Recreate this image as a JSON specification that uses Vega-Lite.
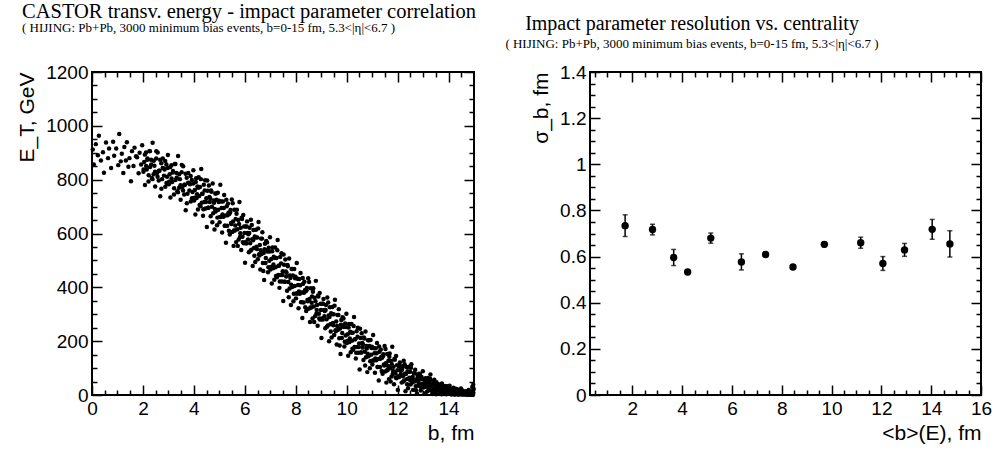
{
  "$schema": "https://vega.github.io/schema/vega-lite/v6.json",
  "background": "white",
  "autosize": {"type": "pad"},
  "padding": {"left": 15, "top": 0, "right": 1, "bottom": 9},
  "bounds": "flush",
  "spacing": 116,
  "config": {
    "view": {"stroke": "black", "strokeWidth": 2},
    "axis": {
      "domain": false, "grid": false,
      "labelFont": "Liberation Sans", "labelFontSize": 19, "labelColor": "black",
      "titleFont": "Liberation Sans", "titleFontSize": 21, "titleFontWeight": "normal", "titleColor": "black",
      "tickColor": "black", "tickWidth": 1.5, "labelFlush": false, "labelOverlap": false
    }
  },
  "hconcat": [
    {
      "width": 382, "height": 323,
      "title": {
        "text": "CASTOR transv. energy - impact parameter correlation",
        "subtitle": "( HIJING: Pb+Pb, 3000 minimum bias events, b=0-15 fm, 5.3<|η|<6.7 )",
        "anchor": "start", "frame": "group", "dx": -70, "offset": 28,
        "font": "Liberation Serif", "fontSize": 20.5, "fontWeight": "normal", "color": "black",
        "subtitleFont": "Liberation Serif", "subtitleFontSize": 13, "subtitleColor": "black", "subtitlePadding": 0
      },
      "layer": [
        {
          "data": {"values": [
{"b":0.03,"e":912},{"b":0.07,"e":856},{"b":0.15,"e":932},{"b":0.23,"e":891},{"b":0.27,"e":963},{"b":0.35,"e":871},{"b":0.43,"e":902},{"b":0.47,"e":826},{"b":0.55,"e":938},{"b":0.63,"e":880},{"b":0.67,"e":916},{"b":0.75,"e":843},{"b":0.83,"e":941},{"b":0.87,"e":889},{"b":0.95,"e":916},
{"b":1.03,"e":854},{"b":1.07,"e":970},{"b":1.13,"e":868},{"b":1.17,"e":896},{"b":1.23,"e":825},{"b":1.27,"e":921},{"b":1.33,"e":871},{"b":1.37,"e":939},{"b":1.43,"e":848},{"b":1.47,"e":880},{"b":1.53,"e":794},{"b":1.57,"e":906},{"b":1.63,"e":851},{"b":1.67,"e":919},{"b":1.73,"e":887},{"b":1.77,"e":883},{"b":1.83,"e":824},{"b":1.87,"e":900},{"b":1.93,"e":856},{"b":1.97,"e":928},
{"b":2.02,"e":829},{"b":2.05,"e":866},{"b":2.08,"e":780},
{"b":2.12,"e":901},{"b":2.15,"e":838},{"b":2.18,"e":879},
{"b":2.22,"e":793},{"b":2.25,"e":906},{"b":2.28,"e":847},
{"b":2.32,"e":874},{"b":2.35,"e":806},{"b":2.38,"e":937},
{"b":2.42,"e":820},{"b":2.45,"e":852},{"b":2.48,"e":775},
{"b":2.52,"e":879},{"b":2.55,"e":824},{"b":2.58,"e":901},
{"b":2.62,"e":797},{"b":2.65,"e":833},{"b":2.68,"e":738},
{"b":2.72,"e":861},{"b":2.75,"e":802},{"b":2.78,"e":879},
{"b":2.82,"e":842},{"b":2.85,"e":838},{"b":2.88,"e":774},
{"b":2.92,"e":856},{"b":2.95,"e":811},{"b":2.98,"e":892},
{"b":3.02,"e":783},{"b":3.05,"e":820},{"b":3.08,"e":734},
{"b":3.12,"e":854},{"b":3.15,"e":791},{"b":3.18,"e":832},
{"b":3.22,"e":745},{"b":3.25,"e":858},{"b":3.28,"e":799},
{"b":3.32,"e":825},{"b":3.35,"e":757},{"b":3.38,"e":888},
{"b":3.42,"e":770},{"b":3.45,"e":802},{"b":3.48,"e":725},
{"b":3.52,"e":828},{"b":3.55,"e":773},{"b":3.58,"e":850},
{"b":3.62,"e":745},{"b":3.65,"e":781},{"b":3.68,"e":686},
{"b":3.72,"e":807},{"b":3.75,"e":748},{"b":3.78,"e":825},
{"b":3.82,"e":787},{"b":3.85,"e":783},{"b":3.88,"e":719},
{"b":3.92,"e":799},{"b":3.95,"e":754},{"b":3.98,"e":835},
{"b":4.01,"e":723},{"b":4.04,"e":762},{"b":4.06,"e":671},{"b":4.09,"e":805},
{"b":4.11,"e":732},{"b":4.14,"e":775},{"b":4.16,"e":689},{"b":4.19,"e":809},
{"b":4.21,"e":739},{"b":4.24,"e":773},{"b":4.26,"e":701},{"b":4.29,"e":840},
{"b":4.31,"e":714},{"b":4.34,"e":748},{"b":4.36,"e":666},{"b":4.39,"e":781},
{"b":4.41,"e":717},{"b":4.44,"e":798},{"b":4.46,"e":693},{"b":4.49,"e":731},
{"b":4.51,"e":624},{"b":4.54,"e":759},{"b":4.56,"e":696},{"b":4.59,"e":778},
{"b":4.61,"e":736},{"b":4.64,"e":731},{"b":4.66,"e":664},{"b":4.69,"e":755},
{"b":4.71,"e":699},{"b":4.74,"e":786},{"b":4.76,"e":675},{"b":4.79,"e":714},
{"b":4.81,"e":615},{"b":4.84,"e":749},{"b":4.86,"e":682},{"b":4.89,"e":725},
{"b":4.91,"e":631},{"b":4.94,"e":751},{"b":4.96,"e":688},{"b":4.99,"e":722},
{"b":5.01,"e":642},{"b":5.04,"e":781},{"b":5.06,"e":661},{"b":5.09,"e":695},
{"b":5.11,"e":604},{"b":5.14,"e":719},{"b":5.16,"e":662},{"b":5.19,"e":743},
{"b":5.21,"e":629},{"b":5.24,"e":667},{"b":5.26,"e":566},{"b":5.29,"e":701},
{"b":5.31,"e":629},{"b":5.34,"e":711},{"b":5.36,"e":677},{"b":5.39,"e":672},
{"b":5.41,"e":596},{"b":5.44,"e":687},{"b":5.46,"e":639},{"b":5.49,"e":726},
{"b":5.51,"e":606},{"b":5.54,"e":645},{"b":5.56,"e":554},{"b":5.59,"e":688},
{"b":5.61,"e":611},{"b":5.64,"e":654},{"b":5.66,"e":568},{"b":5.69,"e":688},
{"b":5.71,"e":616},{"b":5.74,"e":650},{"b":5.76,"e":578},{"b":5.79,"e":717},
{"b":5.81,"e":587},{"b":5.84,"e":621},{"b":5.86,"e":539},{"b":5.89,"e":654},
{"b":5.91,"e":588},{"b":5.94,"e":669},{"b":5.96,"e":564},{"b":5.99,"e":602},
{"b":6.01,"e":491},{"b":6.04,"e":626},{"b":6.06,"e":563},{"b":6.09,"e":645},
{"b":6.11,"e":602},{"b":6.14,"e":597},{"b":6.16,"e":530},{"b":6.19,"e":621},
{"b":6.21,"e":564},{"b":6.24,"e":651},{"b":6.26,"e":540},{"b":6.29,"e":579},
{"b":6.31,"e":479},{"b":6.34,"e":613},{"b":6.36,"e":546},{"b":6.39,"e":589},
{"b":6.41,"e":494},{"b":6.44,"e":614},{"b":6.46,"e":551},{"b":6.49,"e":585},
{"b":6.51,"e":504},{"b":6.54,"e":643},{"b":6.56,"e":523},{"b":6.59,"e":557},
{"b":6.61,"e":466},{"b":6.64,"e":581},{"b":6.66,"e":524},{"b":6.69,"e":605},
{"b":6.71,"e":490},{"b":6.74,"e":528},{"b":6.76,"e":427},{"b":6.79,"e":562},
{"b":6.81,"e":490},{"b":6.84,"e":572},{"b":6.86,"e":538},{"b":6.89,"e":533},
{"b":6.91,"e":456},{"b":6.94,"e":547},{"b":6.96,"e":499},{"b":6.99,"e":586},
{"b":7.01,"e":466},{"b":7.04,"e":505},{"b":7.06,"e":414},{"b":7.09,"e":548},
{"b":7.11,"e":471},{"b":7.14,"e":514},{"b":7.16,"e":428},{"b":7.19,"e":548},
{"b":7.21,"e":475},{"b":7.24,"e":509},{"b":7.26,"e":437},{"b":7.29,"e":576},
{"b":7.31,"e":446},{"b":7.34,"e":480},{"b":7.36,"e":398},{"b":7.39,"e":513},
{"b":7.41,"e":446},{"b":7.44,"e":527},{"b":7.46,"e":422},{"b":7.49,"e":460},
{"b":7.51,"e":349},{"b":7.54,"e":484},{"b":7.56,"e":421},{"b":7.59,"e":503},
{"b":7.61,"e":459},{"b":7.64,"e":454},{"b":7.66,"e":387},{"b":7.69,"e":478},
{"b":7.71,"e":420},{"b":7.74,"e":507},{"b":7.76,"e":396},{"b":7.79,"e":435},
{"b":7.81,"e":334},{"b":7.84,"e":468},{"b":7.86,"e":401},{"b":7.89,"e":444},
{"b":7.91,"e":348},{"b":7.94,"e":468},{"b":7.96,"e":405},{"b":7.99,"e":439},
{"b":8.01,"e":359},{"b":8.04,"e":490},{"b":8.06,"e":377},{"b":8.09,"e":409},
{"b":8.11,"e":322},{"b":8.14,"e":431},{"b":8.16,"e":376},{"b":8.19,"e":453},
{"b":8.21,"e":345},{"b":8.24,"e":381},{"b":8.26,"e":286},{"b":8.29,"e":413},
{"b":8.31,"e":344},{"b":8.34,"e":421},{"b":8.36,"e":389},{"b":8.39,"e":385},
{"b":8.41,"e":312},{"b":8.44,"e":398},{"b":8.46,"e":353},{"b":8.49,"e":434},
{"b":8.51,"e":320},{"b":8.54,"e":357},{"b":8.56,"e":271},{"b":8.59,"e":397},
{"b":8.61,"e":325},{"b":8.64,"e":366},{"b":8.66,"e":284},{"b":8.69,"e":397},
{"b":8.71,"e":329},{"b":8.74,"e":361},{"b":8.76,"e":293},{"b":8.79,"e":424},
{"b":8.81,"e":302},{"b":8.84,"e":334},{"b":8.86,"e":257},{"b":8.89,"e":366},
{"b":8.91,"e":302},{"b":8.94,"e":379},{"b":8.96,"e":280},{"b":8.99,"e":316},
{"b":9.01,"e":212},{"b":9.04,"e":339},{"b":9.06,"e":280},{"b":9.09,"e":357},
{"b":9.11,"e":316},{"b":9.14,"e":312},{"b":9.16,"e":248},{"b":9.19,"e":334},
{"b":9.21,"e":281},{"b":9.24,"e":362},{"b":9.26,"e":258},{"b":9.29,"e":295},
{"b":9.31,"e":200},{"b":9.34,"e":326},{"b":9.36,"e":263},{"b":9.39,"e":304},
{"b":9.41,"e":214},{"b":9.44,"e":327},{"b":9.46,"e":268},{"b":9.49,"e":300},
{"b":9.51,"e":223},{"b":9.54,"e":354},{"b":9.56,"e":241},{"b":9.59,"e":273},
{"b":9.61,"e":188},{"b":9.64,"e":297},{"b":9.66,"e":242},{"b":9.69,"e":319},
{"b":9.71,"e":211},{"b":9.74,"e":247},{"b":9.76,"e":152},{"b":9.79,"e":279},
{"b":9.81,"e":212},{"b":9.84,"e":289},{"b":9.86,"e":257},{"b":9.89,"e":253},
{"b":9.91,"e":180},{"b":9.94,"e":266},{"b":9.96,"e":221},{"b":9.99,"e":302},
{"b":10.01,"e":193},{"b":10.04,"e":226},{"b":10.06,"e":146},{"b":10.09,"e":264},
{"b":10.11,"e":197},{"b":10.14,"e":235},{"b":10.16,"e":159},{"b":10.19,"e":264},
{"b":10.21,"e":202},{"b":10.24,"e":231},{"b":10.26,"e":168},{"b":10.29,"e":290},
{"b":10.31,"e":178},{"b":10.34,"e":207},{"b":10.36,"e":136},{"b":10.39,"e":237},
{"b":10.41,"e":178},{"b":10.44,"e":250},{"b":10.46,"e":157},{"b":10.49,"e":191},
{"b":10.51,"e":95},{"b":10.54,"e":212},{"b":10.56,"e":158},{"b":10.59,"e":229},
{"b":10.61,"e":193},{"b":10.64,"e":189},{"b":10.66,"e":130},{"b":10.69,"e":210},
{"b":10.71,"e":161},{"b":10.74,"e":236},{"b":10.76,"e":140},{"b":10.79,"e":173},
{"b":10.81,"e":85},{"b":10.84,"e":203},{"b":10.86,"e":144},{"b":10.89,"e":182},
{"b":10.91,"e":99},{"b":10.94,"e":204},{"b":10.96,"e":150},{"b":10.99,"e":179},
{"b":11.01,"e":113},{"b":11.04,"e":223},{"b":11.06,"e":128},{"b":11.09,"e":155},
{"b":11.11,"e":83},{"b":11.14,"e":174},{"b":11.16,"e":129},{"b":11.19,"e":193},
{"b":11.21,"e":104},{"b":11.24,"e":134},{"b":11.26,"e":54},{"b":11.29,"e":161},
{"b":11.31,"e":104},{"b":11.34,"e":169},{"b":11.36,"e":142},{"b":11.39,"e":138},
{"b":11.41,"e":79},{"b":11.44,"e":151},{"b":11.46,"e":113},{"b":11.49,"e":182},
{"b":11.51,"e":87},{"b":11.54,"e":118},{"b":11.56,"e":46},{"b":11.59,"e":152},
{"b":11.61,"e":93},{"b":11.64,"e":127},{"b":11.66,"e":59},{"b":11.69,"e":154},
{"b":11.71,"e":99},{"b":11.74,"e":126},{"b":11.76,"e":69},{"b":11.79,"e":179},
{"b":11.81,"e":78},{"b":11.84,"e":105},{"b":11.86,"e":40},{"b":11.89,"e":131},
{"b":11.91,"e":81},{"b":11.94,"e":145},{"b":11.96,"e":62},{"b":11.99,"e":92},
{"b":12.01,"e":19},{"b":12.04,"e":108},{"b":12.06,"e":67},{"b":12.09,"e":121},
{"b":12.11,"e":94},{"b":12.14,"e":91},{"b":12.16,"e":46},{"b":12.19,"e":107},
{"b":12.21,"e":70},{"b":12.24,"e":127},{"b":12.26,"e":54},{"b":12.29,"e":79},
{"b":12.31,"e":14},{"b":12.34,"e":104},{"b":12.36,"e":59},{"b":12.39,"e":88},
{"b":12.41,"e":25},{"b":12.44,"e":105},{"b":12.46,"e":64},{"b":12.49,"e":86},
{"b":12.51,"e":39},{"b":12.54,"e":114},{"b":12.56,"e":49},{"b":12.59,"e":67},
{"b":12.61,"e":19},{"b":12.64,"e":81},{"b":12.66,"e":50},{"b":12.69,"e":94},
{"b":12.71,"e":33},{"b":12.74,"e":54},{"b":12.76,"e":6},{"b":12.79,"e":72},
{"b":12.81,"e":34},{"b":12.84,"e":79},{"b":12.86,"e":60},{"b":12.89,"e":58},
{"b":12.91,"e":17},{"b":12.94,"e":67},{"b":12.96,"e":41},{"b":12.99,"e":88},
{"b":13.01,"e":28},{"b":13.04,"e":44},{"b":13.06,"e":6},{"b":13.09,"e":62},
{"b":13.11,"e":31},{"b":13.14,"e":49},{"b":13.16,"e":13},{"b":13.19,"e":63},
{"b":13.21,"e":34},{"b":13.24,"e":48},{"b":13.26,"e":18},{"b":13.29,"e":76},
{"b":13.31,"e":22},{"b":13.34,"e":36},{"b":13.36,"e":4},{"b":13.39,"e":50},
{"b":13.41,"e":23},{"b":13.44,"e":57},{"b":13.46,"e":13},{"b":13.49,"e":29},
{"b":13.51,"e":3},{"b":13.54,"e":36},{"b":13.56,"e":18},{"b":13.59,"e":41},
{"b":13.61,"e":30},{"b":13.64,"e":28},{"b":13.66,"e":9},{"b":13.69,"e":35},
{"b":13.71,"e":18},{"b":13.74,"e":43},{"b":13.76,"e":11},{"b":13.79,"e":22},
{"b":13.81,"e":4},{"b":13.84,"e":33},{"b":13.86,"e":13},{"b":13.89,"e":26},
{"b":13.91,"e":3},{"b":13.94,"e":33},{"b":13.96,"e":15},{"b":13.99,"e":24},
{"b":14.01,"e":5},{"b":14.04,"e":34},{"b":14.06,"e":9},{"b":14.09,"e":16},
{"b":14.11,"e":2},{"b":14.14,"e":22},{"b":14.16,"e":10},{"b":14.19,"e":27},
{"b":14.21,"e":3},{"b":14.24,"e":11},{"b":14.26,"e":2},{"b":14.29,"e":18},
{"b":14.31,"e":4},{"b":14.34,"e":21},{"b":14.36,"e":14},{"b":14.39,"e":13},
{"b":14.41,"e":2},{"b":14.44,"e":16},{"b":14.46,"e":6},{"b":14.49,"e":24},
{"b":14.51,"e":2},{"b":14.54,"e":8},{"b":14.56,"e":3},{"b":14.59,"e":14},
{"b":14.61,"e":3},{"b":14.64,"e":10},{"b":14.66,"e":2},{"b":14.69,"e":14},
{"b":14.71,"e":4},{"b":14.74,"e":9},{"b":14.76,"e":2},{"b":14.79,"e":19},
{"b":14.81,"e":2},{"b":14.84,"e":6},{"b":14.86,"e":1},{"b":14.89,"e":11},
{"b":14.91,"e":2},{"b":14.93,"e":30},{"b":14.94,"e":14},{"b":14.96,"e":1},{"b":14.97,"e":38},{"b":14.99,"e":22},
{"b":2.025,"e":838},{"b":2.075,"e":893},{"b":2.125,"e":851},{"b":2.175,"e":874},{"b":2.225,"e":816},{"b":2.275,"e":906},{"b":2.325,"e":856},{"b":2.375,"e":802},{"b":2.425,"e":870},{"b":2.475,"e":829},
{"b":2.525,"e":906},{"b":2.575,"e":811},{"b":2.625,"e":833},{"b":2.675,"e":874},{"b":2.725,"e":766},{"b":2.775,"e":843},{"b":2.825,"e":815},{"b":2.875,"e":869},{"b":2.925,"e":788},{"b":2.975,"e":843},
{"b":3.025,"e":792},{"b":3.075,"e":847},{"b":3.125,"e":804},{"b":3.175,"e":827},{"b":3.225,"e":768},{"b":3.275,"e":858},{"b":3.325,"e":807},{"b":3.375,"e":753},{"b":3.425,"e":820},{"b":3.475,"e":779},
{"b":3.525,"e":855},{"b":3.575,"e":760},{"b":3.625,"e":781},{"b":3.675,"e":822},{"b":3.725,"e":712},{"b":3.775,"e":789},{"b":3.825,"e":760},{"b":3.875,"e":814},{"b":3.925,"e":731},{"b":3.975,"e":786},
{"b":4.025,"e":733},{"b":4.075,"e":791},{"b":4.125,"e":746},{"b":4.175,"e":770},{"b":4.225,"e":706},{"b":4.275,"e":802},{"b":4.325,"e":748},{"b":4.375,"e":690},{"b":4.425,"e":760},{"b":4.475,"e":717},
{"b":4.525,"e":797},{"b":4.575,"e":696},{"b":4.625,"e":717},{"b":4.675,"e":760},{"b":4.725,"e":642},{"b":4.775,"e":723},{"b":4.825,"e":691},{"b":4.875,"e":749},{"b":4.925,"e":659},{"b":4.975,"e":717},
{"b":5.025,"e":661},{"b":5.075,"e":719},{"b":5.125,"e":671},{"b":5.175,"e":695},{"b":5.225,"e":629},{"b":5.275,"e":725},{"b":5.325,"e":668},{"b":5.375,"e":610},{"b":5.425,"e":678},{"b":5.475,"e":635},
{"b":5.525,"e":712},{"b":5.575,"e":611},{"b":5.625,"e":630},{"b":5.675,"e":673},{"b":5.725,"e":554},{"b":5.775,"e":635},{"b":5.825,"e":601},{"b":5.875,"e":659},{"b":5.925,"e":568},{"b":5.975,"e":626},
{"b":6.025,"e":568},{"b":6.075,"e":626},{"b":6.125,"e":578},{"b":6.175,"e":602},{"b":6.225,"e":536},{"b":6.275,"e":632},{"b":6.325,"e":575},{"b":6.375,"e":517},{"b":6.425,"e":585},{"b":6.475,"e":542},
{"b":6.525,"e":619},{"b":6.575,"e":518},{"b":6.625,"e":538},{"b":6.675,"e":581},{"b":6.725,"e":461},{"b":6.775,"e":542},{"b":6.825,"e":509},{"b":6.875,"e":567},{"b":6.925,"e":475},{"b":6.975,"e":533},
{"b":7.025,"e":476},{"b":7.075,"e":534},{"b":7.125,"e":485},{"b":7.175,"e":509},{"b":7.225,"e":442},{"b":7.275,"e":538},{"b":7.325,"e":480},{"b":7.375,"e":422},{"b":7.425,"e":489},{"b":7.475,"e":446},
{"b":7.525,"e":522},{"b":7.575,"e":421},{"b":7.625,"e":440},{"b":7.675,"e":483},{"b":7.725,"e":363},{"b":7.775,"e":444},{"b":7.825,"e":410},{"b":7.875,"e":468},{"b":7.925,"e":376},{"b":7.975,"e":434},
{"b":8.025,"e":377},{"b":8.075,"e":432},{"b":8.125,"e":385},{"b":8.175,"e":408},{"b":8.225,"e":345},{"b":8.275,"e":435},{"b":8.325,"e":380},{"b":8.375,"e":326},{"b":8.425,"e":389},{"b":8.475,"e":348},
{"b":8.525,"e":420},{"b":8.575,"e":325},{"b":8.625,"e":343},{"b":8.675,"e":384},{"b":8.725,"e":271},{"b":8.775,"e":348},{"b":8.825,"e":316},{"b":8.875,"e":370},{"b":8.925,"e":284},{"b":8.975,"e":339},
{"b":9.025,"e":284},{"b":9.075,"e":339},{"b":9.125,"e":293},{"b":9.175,"e":316},{"b":9.225,"e":254},{"b":9.275,"e":344},{"b":9.325,"e":290},{"b":9.375,"e":236},{"b":9.425,"e":300},{"b":9.475,"e":259},
{"b":9.525,"e":332},{"b":9.575,"e":237},{"b":9.625,"e":256},{"b":9.675,"e":297},{"b":9.725,"e":184},{"b":9.775,"e":261},{"b":9.825,"e":230},{"b":9.875,"e":284},{"b":9.925,"e":198},{"b":9.975,"e":253},
{"b":10.025,"e":201},{"b":10.075,"e":251},{"b":10.125,"e":210},{"b":10.175,"e":231},{"b":10.225,"e":172},{"b":10.275,"e":256},{"b":10.325,"e":207},{"b":10.375,"e":157},{"b":10.425,"e":216},{"b":10.475,"e":178},
{"b":10.525,"e":246},{"b":10.575,"e":158},{"b":10.625,"e":176},{"b":10.675,"e":214},{"b":10.725,"e":110},{"b":10.775,"e":182},{"b":10.825,"e":153},{"b":10.875,"e":203},{"b":10.925,"e":125},{"b":10.975,"e":175},
{"b":11.025,"e":128},{"b":11.075,"e":174},{"b":11.125,"e":136},{"b":11.175,"e":155},{"b":11.225,"e":104},{"b":11.275,"e":180},{"b":11.325,"e":135},{"b":11.375,"e":89},{"b":11.425,"e":144},{"b":11.475,"e":110},
{"b":11.525,"e":171},{"b":11.575,"e":91},{"b":11.625,"e":108},{"b":11.675,"e":142},{"b":11.725,"e":50},{"b":11.775,"e":114},{"b":11.825,"e":89},{"b":11.875,"e":135},{"b":11.925,"e":65},{"b":11.975,"e":111},
{"b":12.025,"e":70},{"b":12.075,"e":108},{"b":12.125,"e":78},{"b":12.175,"e":94},{"b":12.225,"e":50},{"b":12.275,"e":114},{"b":12.325,"e":78},{"b":12.375,"e":40},{"b":12.425,"e":86},{"b":12.475,"e":57},
{"b":12.525,"e":101},{"b":12.575,"e":46},{"b":12.625,"e":58},{"b":12.675,"e":81},{"b":12.725,"e":18},{"b":12.775,"e":62},{"b":12.825,"e":45},{"b":12.875,"e":76},{"b":12.925,"e":28},{"b":12.975,"e":59},
{"b":13.025,"e":32},{"b":13.075,"e":56},{"b":13.125,"e":37},{"b":13.175,"e":47},{"b":13.225,"e":20},{"b":13.275,"e":60},{"b":13.325,"e":36},{"b":13.375,"e":12},{"b":13.425,"e":41},{"b":13.475,"e":23},
{"b":13.525,"e":47},{"b":13.575,"e":18},{"b":13.625,"e":24},{"b":13.675,"e":37},{"b":13.725,"e":3},{"b":13.775,"e":25},{"b":13.825,"e":16},{"b":13.875,"e":33},{"b":13.925,"e":6},{"b":13.975,"e":23},
{"b":14.025,"e":9},{"b":14.075,"e":21},{"b":14.125,"e":12},{"b":14.175,"e":17},{"b":14.225,"e":3},{"b":14.275,"e":23},{"b":14.325,"e":12},{"b":14.375,"e":2},{"b":14.425,"e":14},{"b":14.475,"e":5},
{"b":14.525,"e":18},{"b":14.575,"e":3},{"b":14.625,"e":6},{"b":14.675,"e":12},{"b":14.725,"e":1},{"b":14.775,"e":7},{"b":14.825,"e":4},{"b":14.875,"e":12},{"b":14.925,"e":1},{"b":14.975,"e":8}
          ]},
          "mark": {"type": "circle", "size": 20, "color": "black", "opacity": 1},
          "encoding": {
            "x": {"field": "b", "type": "quantitative", "scale": {"domain": [0, 15], "nice": false, "zero": false},
              "axis": {"orient": "bottom", "title": "b, fm", "titleAnchor": "end", "titlePadding": 4, "format": "d",
                "values": [0,2,4,6,8,10,12,14], "tickSize": 10, "offset": -10, "labelPadding": 4}},
            "y": {"field": "e", "type": "quantitative", "scale": {"domain": [0, 1200], "nice": false},
              "axis": {"orient": "left", "title": "E_T, GeV", "titleAnchor": "end", "titlePadding": 8, "format": "d",
                "values": [0,200,400,600,800,1000,1200], "tickSize": 10, "offset": -10, "labelPadding": 4}}
          }
        },
        {
          "data": {"values": [{"b": 0, "e": 0}]},
          "mark": {"type": "circle", "opacity": 0},
          "encoding": {
            "x": {"field": "b", "type": "quantitative", "scale": {"domain": [0, 15], "nice": false, "zero": false},
              "axis": {"orient": "bottom", "title": null, "labels": false, "tickSize": 5, "offset": -5,
                "values": [0.5,1,1.5,2.5,3,3.5,4.5,5,5.5,6.5,7,7.5,8.5,9,9.5,10.5,11,11.5,12.5,13,13.5,14.5]}},
            "y": {"field": "e", "type": "quantitative", "scale": {"domain": [0, 1200], "nice": false},
              "axis": {"orient": "left", "title": null, "labels": false, "tickSize": 5, "offset": -5,
                "values": [50,100,150,250,300,350,450,500,550,650,700,750,850,900,950,1050,1100,1150]}}
          }
        },
        {
          "data": {"values": [{"b": 0, "e": 0}]},
          "mark": {"type": "circle", "opacity": 0},
          "encoding": {
            "x": {"field": "b", "type": "quantitative", "scale": {"domain": [0, 15], "nice": false, "zero": false},
              "axis": {"orient": "top", "title": null, "labels": false, "tickSize": 10, "offset": -10,
                "values": [0,2,4,6,8,10,12,14]}},
            "y": {"field": "e", "type": "quantitative", "scale": {"domain": [0, 1200], "nice": false},
              "axis": {"orient": "right", "title": null, "labels": false, "tickSize": 10, "offset": -10,
                "values": [0,200,400,600,800,1000,1200]}}
          }
        },
        {
          "data": {"values": [{"b": 0, "e": 0}]},
          "mark": {"type": "circle", "opacity": 0},
          "encoding": {
            "x": {"field": "b", "type": "quantitative", "scale": {"domain": [0, 15], "nice": false, "zero": false},
              "axis": {"orient": "top", "title": null, "labels": false, "tickSize": 5, "offset": -5,
                "values": [0.5,1,1.5,2.5,3,3.5,4.5,5,5.5,6.5,7,7.5,8.5,9,9.5,10.5,11,11.5,12.5,13,13.5,14.5]}},
            "y": {"field": "e", "type": "quantitative", "scale": {"domain": [0, 1200], "nice": false},
              "axis": {"orient": "right", "title": null, "labels": false, "tickSize": 5, "offset": -5,
                "values": [50,100,150,250,300,350,450,500,550,650,700,750,850,900,950,1050,1100,1150]}}
          }
        }
      ],
      "resolve": {"axis": {"x": "independent", "y": "independent"}}
    },
    {
      "width": 391, "height": 323,
      "title": {
        "text": "Impact parameter resolution vs. centrality",
        "subtitle": "( HIJING: Pb+Pb, 3000 minimum bias events, b=0-15 fm, 5.3<|η|<6.7 )",
        "anchor": "start", "align": "center", "frame": "group", "dx": 102, "offset": 12,
        "font": "Liberation Serif", "fontSize": 20, "fontWeight": "normal", "color": "black",
        "subtitleFont": "Liberation Serif", "subtitleFontSize": 13, "subtitleColor": "black", "subtitlePadding": 4
      },
      "data": {"values": [
        {"b": 1.71, "s": 0.734, "err": 0.047},
        {"b": 2.81, "s": 0.717, "err": 0.023},
        {"b": 3.66, "s": 0.596, "err": 0.035},
        {"b": 4.22, "s": 0.533, "err": 0.01},
        {"b": 5.15, "s": 0.68, "err": 0.022},
        {"b": 6.38, "s": 0.577, "err": 0.035},
        {"b": 7.35, "s": 0.609, "err": 0.01},
        {"b": 8.45, "s": 0.555, "err": 0.008},
        {"b": 9.71, "s": 0.653, "err": 0.01},
        {"b": 11.17, "s": 0.66, "err": 0.024},
        {"b": 12.06, "s": 0.57, "err": 0.03},
        {"b": 12.93, "s": 0.629, "err": 0.028},
        {"b": 14.04, "s": 0.718, "err": 0.043},
        {"b": 14.75, "s": 0.655, "err": 0.057}
      ]},
      "layer": [
        {
          "mark": {"type": "errorbar", "color": "black", "thickness": 1.5, "ticks": {"size": 5, "color": "black", "thickness": 1.5}},
          "encoding": {
            "x": {"field": "b", "type": "quantitative", "scale": {"domain": [0.3, 16], "nice": false, "zero": false}, "axis": null},
            "y": {"field": "s", "type": "quantitative", "scale": {"domain": [0, 1.4], "nice": false}, "axis": null},
            "yError": {"field": "err"}
          }
        },
        {
          "mark": {"type": "circle", "size": 55, "color": "black", "opacity": 1},
          "encoding": {
            "x": {"field": "b", "type": "quantitative", "scale": {"domain": [0.3, 16], "nice": false, "zero": false},
              "axis": {"orient": "bottom", "title": "<b>(E), fm", "titleAnchor": "end", "titlePadding": 4, "format": "d",
                "values": [2,4,6,8,10,12,14,16], "tickSize": 10, "offset": -10, "labelPadding": 4}},
            "y": {"field": "s", "type": "quantitative", "scale": {"domain": [0, 1.4], "nice": false},
              "axis": {"orient": "left", "title": "σ_b, fm", "titleAnchor": "end", "titlePadding": 8, "format": "~g",
                "values": [0,0.2,0.4,0.6,0.8,1,1.2,1.4], "tickSize": 10, "offset": -10, "labelPadding": 4}}
          }
        },
        {
          "data": {"values": [{"b": 1, "s": 0}]},
          "mark": {"type": "circle", "opacity": 0},
          "encoding": {
            "x": {"field": "b", "type": "quantitative", "scale": {"domain": [0.3, 16], "nice": false, "zero": false},
              "axis": {"orient": "bottom", "title": null, "labels": false, "tickSize": 5, "offset": -5,
                "values": [0.5,1,1.5,2.5,3,3.5,4.5,5,5.5,6.5,7,7.5,8.5,9,9.5,10.5,11,11.5,12.5,13,13.5,14.5,15,15.5]}},
            "y": {"field": "s", "type": "quantitative", "scale": {"domain": [0, 1.4], "nice": false},
              "axis": {"orient": "left", "title": null, "labels": false, "tickSize": 5, "offset": -5,
                "values": [0.05,0.1,0.15,0.25,0.3,0.35,0.45,0.5,0.55,0.65,0.7,0.75,0.85,0.9,0.95,1.05,1.1,1.15,1.25,1.3,1.35]}}
          }
        },
        {
          "data": {"values": [{"b": 1, "s": 0}]},
          "mark": {"type": "circle", "opacity": 0},
          "encoding": {
            "x": {"field": "b", "type": "quantitative", "scale": {"domain": [0.3, 16], "nice": false, "zero": false},
              "axis": {"orient": "top", "title": null, "labels": false, "tickSize": 10, "offset": -10,
                "values": [2,4,6,8,10,12,14,16]}},
            "y": {"field": "s", "type": "quantitative", "scale": {"domain": [0, 1.4], "nice": false},
              "axis": {"orient": "right", "title": null, "labels": false, "tickSize": 10, "offset": -10,
                "values": [0,0.2,0.4,0.6,0.8,1,1.2,1.4]}}
          }
        },
        {
          "data": {"values": [{"b": 1, "s": 0}]},
          "mark": {"type": "circle", "opacity": 0},
          "encoding": {
            "x": {"field": "b", "type": "quantitative", "scale": {"domain": [0.3, 16], "nice": false, "zero": false},
              "axis": {"orient": "top", "title": null, "labels": false, "tickSize": 5, "offset": -5,
                "values": [0.5,1,1.5,2.5,3,3.5,4.5,5,5.5,6.5,7,7.5,8.5,9,9.5,10.5,11,11.5,12.5,13,13.5,14.5,15,15.5]}},
            "y": {"field": "s", "type": "quantitative", "scale": {"domain": [0, 1.4], "nice": false},
              "axis": {"orient": "right", "title": null, "labels": false, "tickSize": 5, "offset": -5,
                "values": [0.05,0.1,0.15,0.25,0.3,0.35,0.45,0.5,0.55,0.65,0.7,0.75,0.85,0.9,0.95,1.05,1.1,1.15,1.25,1.3,1.35]}}
          }
        }
      ],
      "resolve": {"axis": {"x": "independent", "y": "independent"}}
    }
  ]
}
